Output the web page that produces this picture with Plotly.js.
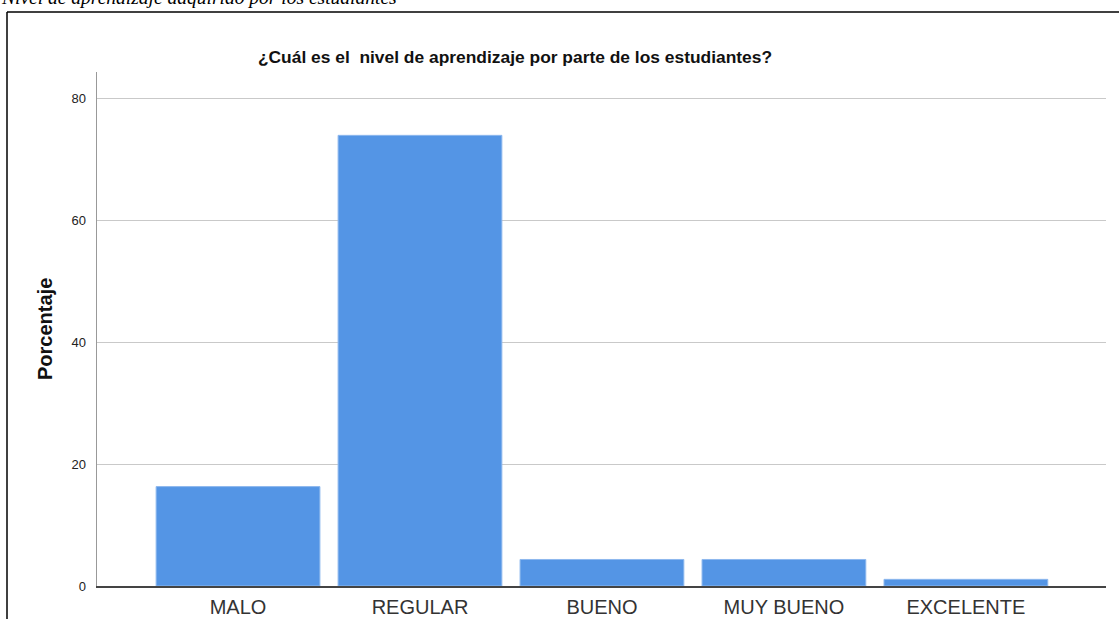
<!DOCTYPE html>
<html>
<head>
<meta charset="utf-8">
<script src="https://cdn.plot.ly/plotly-3.0.1.min.js"></script>
<style>html,body{margin:0;padding:0;background:#fff;}#chart{width:1119px;height:619px;}</style>
</head>
<body>
<div id="chart"></div>
<script>
const categories = ["MALO", "REGULAR", "BUENO", "MUY BUENO", "EXCELENTE"];
const percentages = [16.30, 73.91, 4.35, 4.35, 1.09];
const yTicks = [0, 20, 40, 60, 80];
const chartTitle = "¿Cuál es el\u00a0 nivel de aprendizaje por parte de los estudiantes?";
const yTitle = "Porcentaje";
const captionText = "Nivel de aprendizaje adquirido por los estudiantes";

// plot area in pixels: x 97..1106, y 72..586
const L = 97, R = 1106, T = 72, B = 586;
const px = x => (x - L) / (R - L);
const py = y => (B - y) / (B - T);

const trace = {
  type: "bar",
  x: categories,
  y: percentages,
  marker: { color: "#5495e5", line: { color: "#8db8ee", width: 1 } },
  hoverinfo: "x+y"
};

const layout = {
  width: 1119, height: 619,
  margin: { l: L, r: 1119 - R, t: T, b: 619 - B, pad: 0 },
  paper_bgcolor: "#ffffff",
  plot_bgcolor: "#ffffff",
  showlegend: false,
  bargap: 0.1,
  font: { family: "Liberation Sans, Arial, sans-serif", color: "#333333" },
  title: {
    text: chartTitle,
    font: { family: "Liberation Sans, Arial, sans-serif", size: 17.4, color: "#111111", weight: "bold" },
    xref: "container", x: 515 / 1119, xanchor: "center",
    yref: "container", y: 1 - 57 / 619, yanchor: "middle"
  },
  xaxis: {
    type: "category",
    range: [-0.775, 4.77],
    showgrid: false,
    showline: true, linecolor: "#444444", linewidth: 1.5,
    ticks: "", ticklabelstandoff: 2,
    tickfont: { size: 20, color: "#333333" },
    zeroline: false,
    fixedrange: true
  },
  yaxis: {
    range: [0, 84.3],
    tickvals: yTicks,
    ticktext: yTicks.map(String),
    showgrid: true, gridcolor: "#c9c9c9", gridwidth: 1,
    showline: true, linecolor: "#999999", linewidth: 1.5,
    ticks: "", ticklabelstandoff: 7,
    tickfont: { size: 13, color: "#222222" },
    zeroline: false,
    fixedrange: true
  },
  annotations: [
    {
      text: "<b>" + yTitle + "</b>",
      xref: "paper", yref: "paper",
      x: px(45), y: 0.5, xanchor: "center", yanchor: "middle",
      textangle: -90, showarrow: false,
      font: { family: "Liberation Sans, Arial, sans-serif", size: 20, color: "#111111" }
    },
    {
      text: "<i>" + captionText + "</i>",
      xref: "paper", yref: "paper",
      x: px(-1), y: py(-2.5), xanchor: "left", yanchor: "middle",
      showarrow: false,
      font: { family: "Liberation Serif, Times New Roman, serif", size: 19.5, color: "#000000" }
    }
  ],
  shapes: [
    { type: "line", xref: "paper", yref: "paper", x0: px(7), x1: px(1125), y0: py(12), y1: py(12), line: { color: "#000000", width: 1.5 } },
    { type: "line", xref: "paper", yref: "paper", x0: px(7), x1: px(7), y0: py(12), y1: py(625), line: { color: "#000000", width: 1.5 } }
  ]
};

Plotly.newPlot("chart", [trace], layout, { displayModeBar: false, staticPlot: true });
</script>
</body>
</html>
